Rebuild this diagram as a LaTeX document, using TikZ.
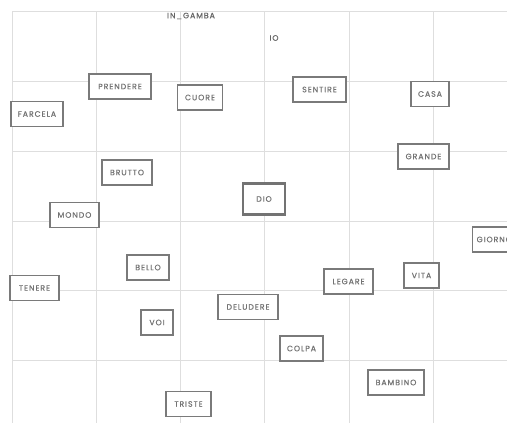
\documentclass[tikz,border=0pt]{standalone}
\usepackage{fontspec}
\setmainfont{Poppins}[LetterSpace=12,FakeBold=0.6]
\begin{document}
\begin{tikzpicture}[x=1pt,y=-1pt,
  gridline/.style={draw=black!13,line width=0.9pt},
  word/.style={draw=black!52,line width=1.4pt,fill=white,text=black!55,
    font=\fontsize{7.8}{9}\selectfont,inner xsep=0pt,minimum height=25pt},
  hub/.style={word,draw=black!55,line width=2.8pt,minimum height=31pt},
  lbl/.style={text=black!60,font=\fontsize{7.8}{9}\selectfont,inner sep=0pt}]
\useasboundingbox (0,0) rectangle (507,423);
\clip (0,0) rectangle (507,423);
\fill[white] (0,0) rectangle (507,423);
% grid
\foreach \gx in {12,96,180,264,349,433}
  \draw[gridline] (\gx,11) -- (\gx,423);
\foreach \gy in {11,81,151,221,290,360}
  \draw[gridline] (12,\gy) -- (507,\gy);
% labels without boxes
\node[lbl] (ingamba) at (191,16) {IN\_GAMBA};
\node[lbl] (io) at (274,38) {IO};
% words
\node[word,minimum width=62pt] (prendere) at (120,86.5) {PRENDERE};
\node[word,minimum width=45pt] (cuore) at (200,97.5) {CUORE};
\node[word,minimum width=52pt] (farcela) at (37,114) {FARCELA};
\node[word,minimum width=53pt] (sentire) at (319.5,89.5) {SENTIRE};
\node[word,minimum width=38pt] (casa) at (430,94) {CASA};
\node[word,minimum width=50pt] (brutto) at (127,172.5) {BRUTTO};
\node[word,minimum width=51pt] (grande) at (423.5,156.5) {GRANDE};
\node[hub,minimum width=42pt] (dio) at (264,199) {DIO};
\node[word,minimum width=49pt] (mondo) at (74.5,215) {MONDO};
\node[word,inner xsep=4pt,anchor=west] (giorno) at (472,239.5) {GIORNO};
\node[word,minimum width=42pt] (bello) at (148,267.5) {BELLO};
\node[word,minimum width=49pt] (tenere) at (34.5,288) {TENERE};
\node[word,minimum width=49pt] (legare) at (348.5,281.5) {LEGARE};
\node[word,minimum width=35pt] (vita) at (421.5,275.5) {VITA};
\node[word,minimum width=60pt] (deludere) at (248,307) {DELUDERE};
\node[word,minimum width=32pt] (voi) at (157,322.5) {VOI};
\node[word,minimum width=43pt] (colpa) at (301.5,348.5) {COLPA};
\node[word,minimum width=56pt] (bambino) at (396,382.5) {BAMBINO};
\node[word,minimum width=45pt] (triste) at (188.5,404) {TRISTE};
\end{tikzpicture}
\end{document}
